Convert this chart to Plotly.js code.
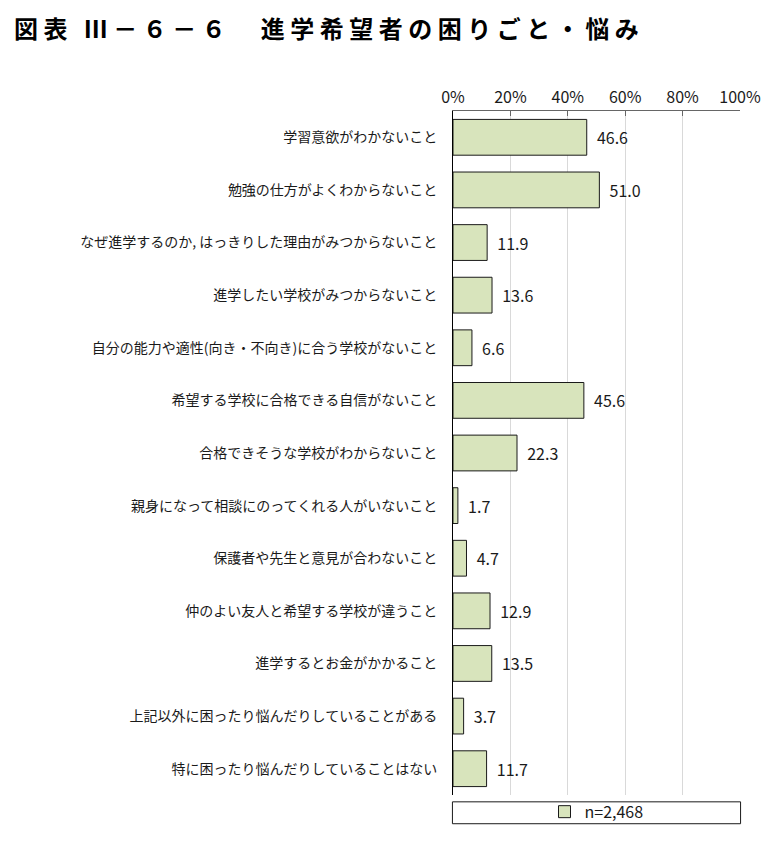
<!DOCTYPE html>
<html>
<head>
<meta charset="utf-8">
<script src="https://cdn.plot.ly/plotly-3.0.1.min.js"></script>
<style>
  body { margin: 0; background: #fff; }
  #chart { width: 772px; height: 841px; }
  #chart .gtitle { letter-spacing: 5.5px; }
</style>
</head>
<body>
<div id="chart"></div>
<script>
// 進学希望者の困りごと・悩み（複数回答）
var categories = [
  '学習意欲がわかないこと',
  '勉強の仕方がよくわからないこと',
  'なぜ進学するのか, はっきりした理由がみつからないこと',
  '進学したい学校がみつからないこと',
  '自分の能力や適性(向き・不向き)に合う学校がないこと',
  '希望する学校に合格できる自信がないこと',
  '合格できそうな学校がわからないこと',
  '親身になって相談にのってくれる人がいないこと',
  '保護者や先生と意見が合わないこと',
  '仲のよい友人と希望する学校が違うこと',
  '進学するとお金がかかること',
  '上記以外に困ったり悩んだりしていることがある',
  '特に困ったり悩んだりしていることはない'
];
var values = [46.6, 51.0, 11.9, 13.6, 6.6, 45.6, 22.3, 1.7, 4.7, 12.9, 13.5, 3.7, 11.7];
var seriesName = 'n=2,468';
var xTicks = [0, 20, 40, 60, 80, 100];
var xTickLabels = ['0%', '20%', '40%', '60%', '80%', '100%'];

var font = '"Noto Sans CJK JP", "Noto Sans", sans-serif';

var bars = {
  type: 'bar',
  orientation: 'h',
  x: values,
  y: categories,
  name: seriesName,
  width: 0.68,
  marker: { color: '#d8e4bc', line: { color: '#1a1a1a', width: 1 } },
  texttemplate: '\u00a0\u00a0%{x:.1f}',
  textposition: 'outside',
  cliponaxis: false,
  textfont: { family: font, size: 16, color: '#1a1a1a' },
  hoverinfo: 'x+y'
};

var layout = {
  width: 772,
  height: 841,
  margin: { l: 453, r: 32, t: 111, b: 41 },
  paper_bgcolor: '#fff',
  plot_bgcolor: '#fff',
  font: { family: font, color: '#1a1a1a' },
  showlegend: true,
  title: {
    text: '<b>図表 Ⅲ－６－６　進学希望者の困りごと・悩み</b>',
    xref: 'container', x: 0.018, xanchor: 'left',
    yref: 'container', y: 0.965, yanchor: 'middle',
    font: { family: font, size: 24, color: '#000' }
  },
  xaxis: {
    side: 'top',
    range: [0, 100],
    tickvals: xTicks,
    ticktext: xTickLabels,
    ticks: 'inside',
    ticklen: 5,
    tickcolor: '#666',
    showline: true,
    linecolor: '#666',
    linewidth: 1.5,
    showgrid: true,
    gridcolor: '#d9d9d9',
    gridwidth: 1,
    zeroline: false,
    tickfont: { family: font, size: 16, color: '#1a1a1a' },
    fixedrange: true
  },
  yaxis: {
    autorange: 'reversed',
    showline: true,
    linecolor: '#000',
    linewidth: 1,
    ticks: '',
    ticklabelstandoff: 12,
    showgrid: false,
    tickfont: { family: font, size: 14, color: '#1a1a1a' },
    fixedrange: true
  },
  legend: {
    orientation: 'h',
    x: 0.5, xanchor: 'center',
    y: -0.0245, yanchor: 'middle',
    bgcolor: 'rgba(0,0,0,0)',
    borderwidth: 0,
    font: { family: font, size: 16, color: '#1a1a1a' },
    itemwidth: 30
  },
  shapes: [{
    type: 'rect',
    xref: 'paper', yref: 'paper',
    x0: -0.002, x1: 1.002,
    y0: -0.01, y1: -0.042,
    line: { color: '#1a1a1a', width: 1 },
    fillcolor: 'rgba(0,0,0,0)'
  }]
};

Plotly.newPlot('chart', [bars], layout, { displayModeBar: false, staticPlot: true });
</script>
</body>
</html>
